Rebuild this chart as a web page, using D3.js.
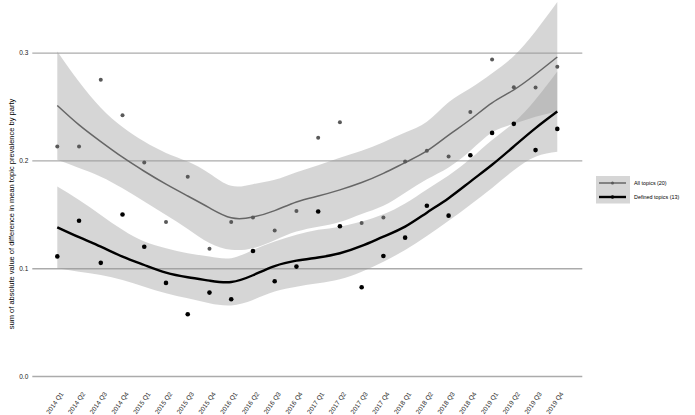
<!DOCTYPE html>
<html>
<head>
<meta charset="utf-8">
<script src="https://cdn.jsdelivr.net/npm/d3@7"></script>
<style>
  body { margin: 0; background: #fff; }
  svg text { font-family: "Liberation Sans", Arial, Helvetica, sans-serif; }
</style>
</head>
<body>
<div class="chart"></div>
<script>
var width = 695,
  height = 415

var quarters = ["2014 Q1", "2014 Q2", "2014 Q3", "2014 Q4", "2015 Q1", "2015 Q2", "2015 Q3", "2015 Q4",
  "2016 Q1", "2016 Q2", "2016 Q3", "2016 Q4", "2017 Q1", "2017 Q2", "2017 Q3", "2017 Q4",
  "2018 Q1", "2018 Q2", "2018 Q3", "2018 Q4", "2019 Q1", "2019 Q2", "2019 Q3", "2019 Q4"];

var yTicks = [0, 0.1, 0.2, 0.3];

// observed values
var allTopics = [0.213, 0.213, 0.275, 0.242, 0.198, 0.143, 0.185, 0.118, 0.143, 0.147, 0.135, 0.153,
  0.221, 0.2355, 0.142, 0.147, 0.199, 0.209, 0.2036, 0.245, 0.2937, 0.268, 0.2677, 0.287];
var definedTopics = [0.111, 0.144, 0.105, 0.1498, 0.120, 0.0864, 0.0573, 0.0774, 0.0712, 0.116, 0.0879, 0.1015,
  0.1526, 0.139, 0.0823, 0.1114, 0.1284, 0.158, 0.1488, 0.2049, 0.2256, 0.234, 0.2096, 0.2293];

// smoothed fit and its band per quarter
var allFit = [0.251, 0.233, 0.2175, 0.203, 0.190, 0.178, 0.167, 0.156, 0.1468, 0.1475, 0.1535, 0.1615,
  0.167, 0.1727, 0.1795, 0.188, 0.198, 0.2088, 0.2235, 0.238, 0.2535, 0.2655, 0.280, 0.296];
var allLo = [0.2006, 0.193, 0.185, 0.1743, 0.162, 0.1495, 0.1365, 0.1235, 0.1172, 0.1186, 0.126, 0.134,
  0.1386, 0.143, 0.1504, 0.158, 0.170, 0.1825, 0.1935, 0.209, 0.226, 0.234, 0.2405, 0.2454];
var allHi = [0.301, 0.273, 0.249, 0.231, 0.2175, 0.207, 0.199, 0.188, 0.1765, 0.178, 0.182, 0.189,
  0.1955, 0.2025, 0.209, 0.217, 0.226, 0.236, 0.254, 0.267, 0.281, 0.297, 0.320, 0.347];

var defFit = [0.138, 0.1288, 0.120, 0.1108, 0.103, 0.0959, 0.0916, 0.0885, 0.0872, 0.0935, 0.102, 0.107,
  0.110, 0.1139, 0.1207, 0.1293, 0.1386, 0.1516, 0.165, 0.1804, 0.196, 0.213, 0.230, 0.2454];
var defLo = [0.100, 0.0968, 0.0938, 0.0891, 0.0829, 0.0768, 0.0721, 0.0675, 0.0655, 0.0706, 0.0783, 0.0829,
  0.086, 0.0898, 0.0968, 0.106, 0.117, 0.130, 0.144, 0.159, 0.1745, 0.191, 0.2035, 0.208];
var defHi = [0.1758, 0.1634, 0.1495, 0.1356, 0.1247, 0.1186, 0.1139, 0.1108, 0.1093, 0.117, 0.1247, 0.131,
  0.1356, 0.1386, 0.1433, 0.150, 0.160, 0.173, 0.186, 0.2015, 0.219, 0.235, 0.2565, 0.2825];

var series = [
  {name: "All topics (20)", pts: allTopics, fit: allFit, lo: allLo, hi: allHi, color: "#666666", point: "#595959", lw: 1.5, r: 2},
  {name: "Defined topics (13)", pts: definedTopics, fit: defFit, lo: defLo, hi: defHi, color: "#000000", point: "#000000", lw: 2.4, r: 2.3}
];

var svg = d3.select(".chart")
  .append("svg")
  .attr("width", width)
  .attr("height", height);

var x = d3.scalePoint()
  .domain(quarters)
  .range([32.3, 582.3])
  .padding(1.15);

var y = d3.scaleLinear()
  .domain([0, 0.3])
  .range([376, 52.7]);

// horizontal grid + y labels
var yAxis = svg.append("g")
  .attr("transform", "translate(32.3,0)")
  .call(d3.axisLeft(y).tickValues(yTicks).tickFormat(d3.format(".1f"))
    .tickSizeInner(-550).tickSizeOuter(0).tickPadding(4));
yAxis.select(".domain").remove();
yAxis.selectAll("line").attr("stroke", "#ababab").attr("stroke-width", 1.3);
yAxis.selectAll("text").attr("fill", "#222").style("font-size", "6.5px");

var xAxis = svg.append("g")
  .attr("transform", "translate(0,376)")
  .call(d3.axisBottom(x).tickSize(0));
xAxis.select(".domain").remove();
xAxis.selectAll("text")
  .attr("fill", "#222")
  .style("font-size", "6.5px")
  .attr("text-anchor", "end")
  .attr("dy", null)
  .attr("y", 0)
  .attr("transform", "translate(6,18) rotate(-55)");

svg.append("text")
  .attr("transform", "translate(13.5,214) rotate(-90)")
  .attr("text-anchor", "middle")
  .attr("fill", "#000")
  .style("font-size", "7.5px")
  .text("sum of absolute value of difference in mean topic prevalence by party");

var band = d3.area()
  .x(function(d, i) { return x(quarters[i]); })
  .y0(function(d) { return y(d[0]); })
  .y1(function(d) { return y(d[1]); })
  .curve(d3.curveNatural);

var line = d3.line()
  .x(function(d, i) { return x(quarters[i]); })
  .y(function(d) { return y(d); })
  .curve(d3.curveNatural);

series.forEach(function(s) {
  svg.append("path")
    .datum(s.lo.map(function(v, i) { return [v, s.hi[i]]; }))
    .attr("d", band)
    .attr("fill", "#999999")
    .attr("fill-opacity", 0.4);
});

series.forEach(function(s) {
  svg.append("path")
    .datum(s.fit)
    .attr("d", line)
    .attr("fill", "none")
    .attr("stroke", s.color)
    .attr("stroke-width", s.lw);

  svg.append("g").selectAll("circle")
    .data(s.pts)
    .enter().append("circle")
      .attr("cx", function(d, i) { return x(quarters[i]); })
      .attr("cy", function(d) { return y(d); })
      .attr("r", s.r)
      .attr("fill", s.point);
});

// legend
var legend = svg.append("g").attr("transform", "translate(596,176)");
legend.append("rect")
  .attr("width", 34).attr("height", 27.5)
  .attr("fill", "#999999").attr("fill-opacity", 0.4);

var key = legend.selectAll(".key")
  .data(series)
  .enter().append("g")
    .attr("class", "key")
    .attr("transform", function(d, i) { return "translate(0," + (7 + i * 14) + ")"; });

key.append("line")
  .attr("x1", 3).attr("x2", 30)
  .attr("stroke", function(d) { return d.color; })
  .attr("stroke-width", function(d) { return d.lw; });
key.append("circle")
  .attr("cx", 16.5).attr("r", function(d) { return d.r - 0.5; })
  .attr("fill", function(d) { return d.point; });
key.append("text")
  .attr("x", 38).attr("dy", "0.35em")
  .style("font-size", "5.4px")
  .attr("fill", "#000")
  .text(function(d) { return d.name; });
</script>
</body>
</html>
